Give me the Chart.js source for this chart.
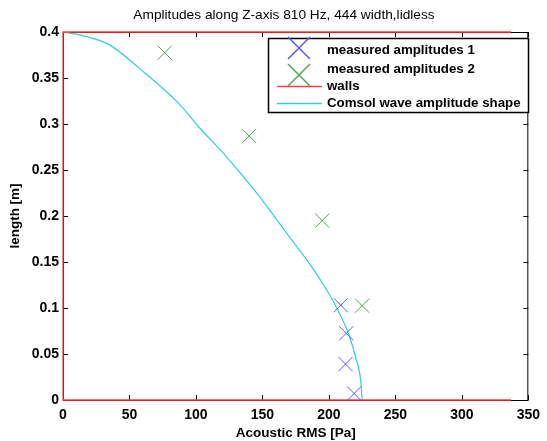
<!DOCTYPE html>
<html>
<head>
<meta charset="utf-8">
<script src="https://cdn.jsdelivr.net/npm/chart.js@4.4.1/dist/chart.umd.min.js"></script>
<style>
  html, body { margin: 0; padding: 0; background: #fff; }
  #wrap { width: 547px; height: 441px; position: relative; }
</style>
</head>
<body>
<div id="wrap"><canvas id="chart"></canvas></div>
<script>
// measured points (x = Acoustic RMS [Pa], y = length [m])
const meas1X = [209, 213, 212.5, 219];
const meas1Y = [0.103, 0.0725, 0.039, 0.007];
const meas2X = [76.5, 140, 195, 225];
const meas2Y = [0.3775, 0.287, 0.195, 0.1025];

// walls
const wallX = [337, 0, 0, 337];
const wallY = [0.4, 0.4, 0, 0];

// comsol curve
const shapeX = [0, 15, 35, 57, 87, 102, 122, 144, 172, 185, 196, 206, 215, 220, 224, 225];
const shapeY = [0.4, 0.396, 0.386, 0.361, 0.3225, 0.297, 0.266, 0.228, 0.174, 0.149, 0.125, 0.1, 0.071, 0.047, 0.02, 0];

const xTicks = [0, 50, 100, 150, 200, 250, 300, 350];
const yTicks = [0, 0.05, 0.1, 0.15, 0.2, 0.25, 0.3, 0.35, 0.4];

const FONT = 'Liberation Sans, Arial, sans-serif';
const pts = (xs, ys) => xs.map((x, i) => ({ x: x, y: ys[i] }));

// matlab-ish box, inward ticks, legend and title
const matlabBits = {
  id: 'matlabBits',
  beforeDatasetsDraw(chart) {
    const { ctx, chartArea: a, scales: { x, y } } = chart;
    ctx.save();
    ctx.strokeStyle = '#000';
    ctx.lineWidth = 1;
    ctx.strokeRect(a.left + 0.5, a.top + 0.5, a.right - a.left - 1, a.bottom - a.top);
    ctx.beginPath();
    xTicks.forEach(v => {
      const px = Math.round(x.getPixelForValue(v)) + 0.5;
      ctx.moveTo(px, a.bottom); ctx.lineTo(px, a.bottom - 5);
      ctx.moveTo(px, a.top); ctx.lineTo(px, a.top + 5);
    });
    yTicks.forEach(v => {
      const py = Math.round(y.getPixelForValue(v)) + 0.5;
      ctx.moveTo(a.left, py); ctx.lineTo(a.left + 5, py);
      ctx.moveTo(a.right, py); ctx.lineTo(a.right - 5, py);
    });
    ctx.stroke();
    ctx.restore();
  },
  afterDraw(chart) {
    const { ctx } = chart;
    ctx.save();
    ctx.fillStyle = '#000';
    ctx.font = '13.7px ' + FONT;
    ctx.textAlign = 'center';
    ctx.textBaseline = 'middle';
    ctx.fillText('Amplitudes along Z-axis 810 Hz, 444 width,lidless', 284, 15);

    // legend box
    const bx = 268, by = 38, bw = 260, bh = 74;
    ctx.fillStyle = '#fff';
    ctx.fillRect(bx, by, bw, bh);
    ctx.strokeStyle = '#000';
    ctx.lineWidth = 1.5;
    ctx.strokeRect(bx + 0.5, by + 0.5, bw, bh);

    const ds = chart.data.datasets;
    const rows = [50, 69, 86, 103];
    [[ds[0].borderColor, rows[0] - 2], [ds[1].borderColor, rows[1] + 6]].forEach(([c, cy]) => {
      ctx.strokeStyle = c;
      ctx.lineWidth = 1.5;
      ctx.beginPath();
      ctx.moveTo(288, cy - 11); ctx.lineTo(310, cy + 11);
      ctx.moveTo(310, cy - 11); ctx.lineTo(288, cy + 11);
      ctx.stroke();
    });
    [[ds[2].borderColor, rows[2]], [ds[3].borderColor, rows[3]]].forEach(([c, cy]) => {
      ctx.strokeStyle = c;
      ctx.lineWidth = 1.5;
      ctx.beginPath();
      ctx.moveTo(277, cy + 0.5); ctx.lineTo(322, cy + 0.5);
      ctx.stroke();
    });
    ctx.fillStyle = '#000';
    ctx.font = 'bold 13.3px ' + FONT;
    ctx.textAlign = 'left';
    ds.forEach((d, i) => ctx.fillText(d.label, 327, rows[i]));
    ctx.restore();
  }
};

new Chart(document.getElementById('chart'), {
  type: 'scatter',
  data: {
    datasets: [
      {
        label: 'measured amplitudes 1',
        data: pts(meas1X, meas1Y),
        showLine: false,
        pointStyle: 'crossRot',
        pointRadius: 10,
        pointBorderWidth: 1,
        borderColor: '#5a5aff',
        backgroundColor: '#5a5aff'
      },
      {
        label: 'measured amplitudes 2',
        data: pts(meas2X, meas2Y),
        showLine: false,
        pointStyle: 'crossRot',
        pointRadius: 10,
        pointBorderWidth: 1,
        borderColor: '#4ea84e',
        backgroundColor: '#4ea84e'
      },
      {
        label: 'walls',
        data: pts(wallX, wallY),
        showLine: true,
        clip: false,
        pointRadius: 0,
        borderWidth: 1.3,
        borderColor: '#ff4040'
      },
      {
        label: 'Comsol wave amplitude shape',
        data: pts(shapeX, shapeY),
        showLine: true,
        pointRadius: 0,
        borderWidth: 1.2,
        cubicInterpolationMode: 'monotone',
        borderColor: '#30d0d0'
      }
    ]
  },
  options: {
    responsive: true,
    maintainAspectRatio: false,
    animation: false,
    layout: { padding: { top: 32, right: 14, left: 0, bottom: 0 } },
    plugins: {
      legend: { display: false },
      title: { display: false },
      tooltip: { enabled: false }
    },
    scales: {
      x: {
        min: 0, max: 350,
        afterBuildTicks: s => { s.ticks = xTicks.map(v => ({ value: v })); },
        afterFit: s => { s.height = 41; },
        grid: { display: false, drawTicks: false },
        border: { display: false },
        ticks: {
          padding: 7,
          color: '#000',
          font: { family: FONT, size: 14, weight: 'bold' },
          maxRotation: 0
        },
        title: {
          display: true,
          text: 'Acoustic RMS [Pa]',
          color: '#000',
          font: { family: FONT, size: 13.5, weight: 'bold' },
          padding: { top: 0, bottom: 0 }
        }
      },
      y: {
        min: 0, max: 0.4,
        afterBuildTicks: s => { s.ticks = yTicks.map(v => ({ value: v })); },
        afterFit: s => { s.width = 63; },
        grid: { display: false, drawTicks: false },
        border: { display: false },
        ticks: {
          padding: 4,
          color: '#000',
          font: { family: FONT, size: 14, weight: 'bold' },
          callback: v => String(Math.round(v * 100) / 100)
        },
        title: {
          display: true,
          text: 'length [m]',
          color: '#000',
          font: { family: FONT, size: 13.5, weight: 'bold' },
          padding: { top: 7, bottom: 0 }
        }
      }
    }
  },
  plugins: [matlabBits]
});
</script>
</body>
</html>
